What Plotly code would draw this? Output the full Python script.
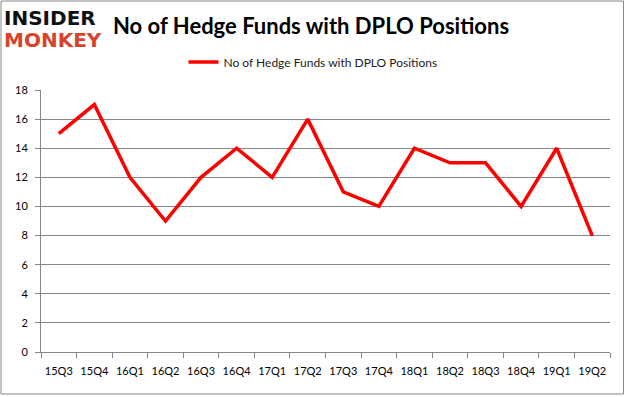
import plotly.graph_objects as go

quarters = ["15Q3", "15Q4", "16Q1", "16Q2", "16Q3", "16Q4", "17Q1", "17Q2",
            "17Q3", "17Q4", "18Q1", "18Q2", "18Q3", "18Q4", "19Q1", "19Q2"]
funds = [15, 17, 12, 9, 12, 14, 12, 16, 11, 10, 14, 13, 13, 10, 14, 8]
series_name = "No of Hedge Funds with DPLO Positions"
y_ticks = [0, 2, 4, 6, 8, 10, 12, 14, 16, 18]

W, H = 626, 397
L, R, T, B = 41, 16, 90, 45
pw, ph = W - L - R, H - T - B

def px(x):
    return (x - L) / pw

def py(y):
    return (H - B - y) / ph

fig = go.Figure()
fig.add_trace(go.Scatter(
    x=quarters, y=funds, mode="lines", name=series_name,
    line=dict(color="#ff0000", width=3.5),
))

font = "Lato, Open Sans, sans-serif"
fig.update_layout(
    width=W, height=H,
    margin=dict(l=L, r=R, t=T, b=B, autoexpand=False),
    paper_bgcolor="white", plot_bgcolor="white",
    showlegend=True,
    legend=dict(orientation="h", x=px(313), y=py(62), xanchor="center", yanchor="middle",
                font=dict(family=font, size=12, color="#222222"),
                bgcolor="rgba(0,0,0,0)", itemwidth=30),
    xaxis=dict(type="category", range=[-0.5, 15.5], tickson="boundaries",
               ticks="outside", ticklen=5, tickcolor="#868686", tickangle=0,
               automargin=False, ticklabelstandoff=9,
               showline=True, linecolor="#868686", linewidth=1,
               showgrid=False, zeroline=False,
               tickfont=dict(family=font, size=11, color="#000000")),
    yaxis=dict(range=[0, 18], tickvals=y_ticks, automargin=False,
               ticks="outside", ticklen=5, tickcolor="#868686",
               ticklabelstandoff=5,
               showline=True, linecolor="#868686", linewidth=1,
               showgrid=True, gridcolor="#868686", gridwidth=1,
               zeroline=False,
               tickfont=dict(family=font, size=11, color="#000000")),
    annotations=[
        dict(text="<b>No of Hedge Funds with DPLO Positions</b>", xref="paper", yref="paper",
             x=px(111), y=py(25), xanchor="left", yanchor="middle", showarrow=False,
             font=dict(family=font, size=22, color="#000000")),
        dict(text="<b>INSIDER</b>", xref="paper", yref="paper",
             x=px(2), y=py(18), xanchor="left", yanchor="middle", showarrow=False,
             font=dict(family="DejaVu Sans", size=20, color="#111111")),
        dict(text="<b>MONKEY</b>", xref="paper", yref="paper",
             x=px(2), y=py(40), xanchor="left", yanchor="middle", showarrow=False,
             font=dict(family="DejaVu Sans", size=20, color="#d8432c")),
    ],
    shapes=[
        dict(type="rect", xref="paper", yref="paper",
             x0=px(1), x1=px(623.5), y0=py(394), y1=py(1),
             line=dict(color="#868686", width=1), fillcolor="rgba(0,0,0,0)"),
    ],
)

fig.write_html("out.html", config={"displayModeBar": False},
               post_script="document.body.style.margin='0';document.body.style.overflow='hidden';")
